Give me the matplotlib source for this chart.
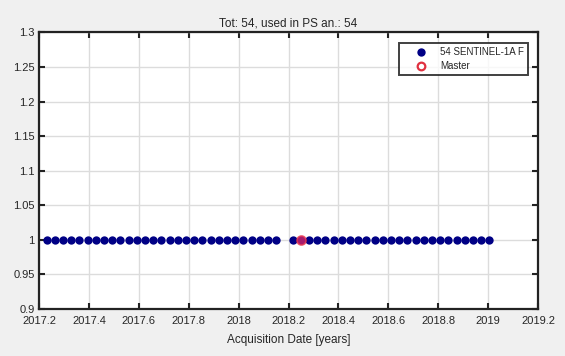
import datetime as dt
import matplotlib
matplotlib.use("Agg")
import matplotlib.pyplot as plt
from matplotlib.lines import Line2D

plt.rcParams['font.family'] = ['Liberation Sans', 'DejaVu Sans']

# Sentinel-1A acquisition dates (12-day repeat)
acq_dates = [
    "2017-03-26", "2017-04-07", "2017-04-19", "2017-05-01", "2017-05-13",
    "2017-05-25", "2017-06-06", "2017-06-18", "2017-06-30", "2017-07-12",
    "2017-07-24", "2017-08-05", "2017-08-17", "2017-08-29", "2017-09-10",
    "2017-09-22", "2017-10-04", "2017-10-16", "2017-10-28", "2017-11-09",
    "2017-11-21", "2017-12-03", "2017-12-15", "2017-12-27", "2018-01-08",
    "2018-01-20", "2018-02-01", "2018-02-13", "2018-02-25",
    "2018-03-21", "2018-04-02", "2018-04-14", "2018-04-26", "2018-05-08",
    "2018-05-20", "2018-06-01", "2018-06-13", "2018-06-25", "2018-07-07",
    "2018-07-19", "2018-07-31", "2018-08-12", "2018-08-24", "2018-09-05",
    "2018-09-17", "2018-09-29", "2018-10-11", "2018-10-23", "2018-11-04",
    "2018-11-16", "2018-11-28", "2018-12-10", "2018-12-22", "2019-01-03",
]
master_date = "2018-04-02"
sensor_value = 1.0

x_ticks = [2017.2, 2017.4, 2017.6, 2017.8, 2018.0, 2018.2, 2018.4, 2018.6, 2018.8, 2019.0, 2019.2]
x_tick_labels = ["2017.2", "2017.4", "2017.6", "2017.8", "2018", "2018.2", "2018.4",
                 "2018.6", "2018.8", "2019", "2019.2"]
y_ticks = [0.9, 0.95, 1.0, 1.05, 1.1, 1.15, 1.2, 1.25, 1.3]
y_tick_labels = ["0.9", "0.95", "1", "1.05", "1.1", "1.15", "1.2", "1.25", "1.3"]


def decimal_year(s):
    d = dt.date.fromisoformat(s)
    start = dt.date(d.year, 1, 1)
    days = (dt.date(d.year + 1, 1, 1) - start).days
    return d.year + (d - start).days / days


xs = [decimal_year(s) for s in acq_dates]
ys = [sensor_value] * len(xs)
xm = decimal_year(master_date)

bg = '#f0f0f0'
txt = '#262626'
navy = '#000085'
red = '#e03040'
fig = plt.figure(figsize=(5.65, 3.56), dpi=100, facecolor=bg)
ax = fig.add_axes([39 / 565, 1 - 309 / 356, (538 - 39) / 565, (309 - 32.5) / 356])
ax.set_facecolor('white')

ax.plot(xs, ys, 'o', color=navy, markersize=6, markeredgewidth=0, zorder=3)
ax.plot([xm], [sensor_value], 'o', markerfacecolor=(0.88, 0.15, 0.40, 0.75),
        markeredgecolor=(0.9, 0.2, 0.3, 0.8), markersize=6.5, markeredgewidth=1.2, zorder=4)

ax.set_xlim(2017.2, 2019.2)
ax.set_ylim(0.9, 1.3)
ax.set_xticks(x_ticks)
ax.set_xticklabels(x_tick_labels)
ax.set_yticks(y_ticks)
ax.set_yticklabels(y_tick_labels)
ax.grid(True, color='#dcdcdc', linewidth=1.0, zorder=0)
ax.set_axisbelow(True)
ax.tick_params(direction='in', length=4, width=1.5, colors='#222222', labelcolor=txt,
               labelsize=8, top=True, right=True)
ax.tick_params(axis='x', pad=5)
ax.tick_params(axis='y', pad=3)
for sp in ax.spines.values():
    sp.set_linewidth(1.6)
    sp.set_color('#222222')

ax.set_title("Tot: 54, used in PS an.: 54", fontsize=8.5, color=txt, pad=4)
ax.set_xlabel("Acquisition Date [years]", fontsize=8.5, color=txt, labelpad=6)

handles = [
    Line2D([], [], linestyle='none', marker='o', color=navy, markersize=6,
           markeredgewidth=0, label='54 SENTINEL-1A F'),
    Line2D([], [], linestyle='none', marker='o', markerfacecolor='white',
           markeredgecolor=red, markersize=5.5, markeredgewidth=1.6, label='Master'),
]
leg = ax.legend(handles=handles, loc='upper right',
                bbox_to_anchor=((528.3 - 39) / 499, (309 - 42.7) / 276.5),
                fontsize=7, frameon=True, fancybox=False, edgecolor='#111111',
                borderpad=0.45, labelspacing=0.4, handletextpad=0.13, handlelength=3.62,
                borderaxespad=0)
leg.get_frame().set_linewidth(1.4)
for t in leg.get_texts():
    t.set_color(txt)

fig.savefig("out.png", dpi=100, facecolor=bg)
